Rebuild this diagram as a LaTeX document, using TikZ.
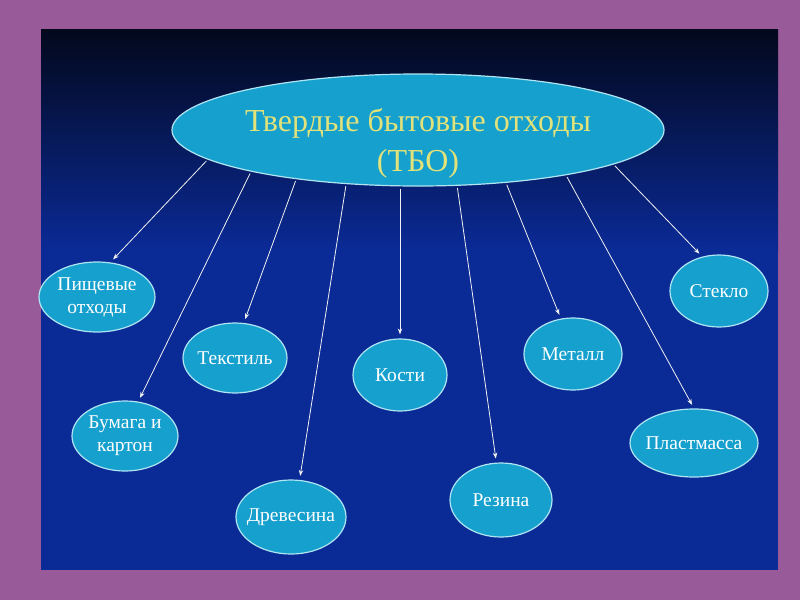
\documentclass[tikz,border=0pt]{standalone}
\usepackage{fontspec}
\setmainfont{Liberation Serif}
\usetikzlibrary{shapes.geometric,arrows.meta}

\definecolor{slidepurple}{RGB}{152,90,152}
\definecolor{panelnavy}{RGB}{3,8,28}
\definecolor{panelblue}{RGB}{10,42,150}
\definecolor{bubblefill}{RGB}{22,160,205}
\definecolor{rimcol}{RGB}{175,228,242}
\definecolor{titleyellow}{RGB}{226,226,122}

\begin{document}
\begin{tikzpicture}[x=1pt, y=-1pt,
  bubble/.style={ellipse, draw=rimcol, line width=1.2pt, fill=bubblefill,
                 text=white, align=center, inner ysep=0pt, inner xsep=-8pt,
                 font=\fontsize{19.5}{23}\selectfont},
  arr/.style={draw=white!88!gray, line width=0.8pt,
              -{Stealth[length=6pt,width=4.5pt]},
              shorten <=2pt, shorten >=4pt}]
  \useasboundingbox (0,0) rectangle (800,600);
  \fill[slidepurple] (0,0) rectangle (800,600);
  \shade[top color=panelnavy, bottom color=panelblue] (41,29) rectangle (778,250);
  \fill[panelblue] (41,249.5) rectangle (778,570);
  % central ellipse
  \node[bubble, minimum width=492, minimum height=112] (tbo) at (418,130) {};
  \node[text=titleyellow, align=center, font=\fontsize{32}{40}\selectfont]
    (tbotitle) at (418,143) {Твердые бытовые отходы\\(ТБО)};
  % kinds of waste
  \node[bubble, minimum width=116, minimum height=70] (food)    at (97,297)  {Пищевые\\отходы};
  \node[bubble, minimum width=106, minimum height=70] (paper)   at (125,436) {Бумага и\\картон};
  \node[bubble, minimum width=104, minimum height=70] (textile) at (235,358) {Текстиль};
  \node[bubble, minimum width=110, minimum height=74] (wood)    at (291,517) {Древесина};
  \node[bubble, minimum width=94,  minimum height=72] (bones)   at (400,375) {Кости};
  \node[bubble, minimum width=102, minimum height=74] (rubber)  at (501,500) {Резина};
  \node[bubble, minimum width=98,  minimum height=72] (metal)   at (573,354) {Металл};
  \node[bubble, minimum width=128, minimum height=68] (plastic) at (694,443) {Пластмасса};
  \node[bubble, minimum width=98,  minimum height=72] (glass)   at (719,291) {Стекло};
  \draw[arr] (tbo.188.1) -- (food.69);
  \draw[arr] (tbo.194.7) -- (paper.69);
  \draw[arr] (tbo.202.9) -- (textile.76);
  \draw[arr] (tbo.217.5) -- (wood.77);
  \draw[arr] (tbo.south -| bones.north) -- (bones.north);
  \draw[arr] (tbo.305.2) -- (rubber.97);
  \draw[arr] (tbo.329.6) -- (metal.109);
  \draw[arr] (tbo.343.4) -- (plastic.90);
  \draw[arr] (tbo.350.4) -- (glass.116);
\end{tikzpicture}
\end{document}
